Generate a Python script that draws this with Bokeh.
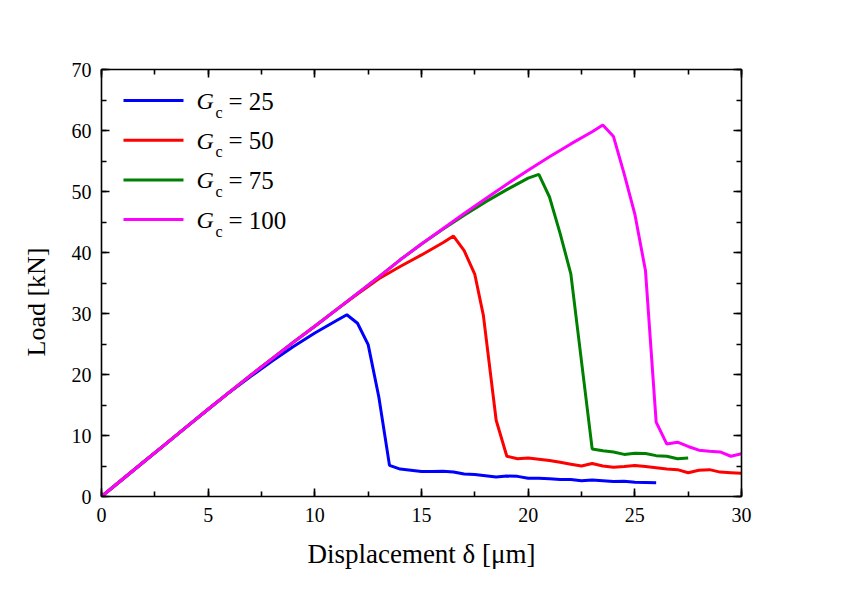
from bokeh.plotting import figure
from bokeh.models import LinearAxis, SingleIntervalTicker, Range1d, Label, Title, CustomJSTickFormatter
from bokeh.embed import file_html
from bokeh.resources import INLINE

# ---------------- data ----------------
x_g25 = [0, 1, 2, 3, 4, 5, 6, 7, 8, 9, 10, 11, 11.5, 12, 12.5, 13, 13.5, 14, 14.5, 15, 15.5,
         16, 16.5, 17, 17.5, 18, 18.5, 19, 19.5, 20, 20.5, 21, 21.5, 22, 22.5, 23, 23.5,
         24, 24.5, 25, 25.5, 26]
y_g25 = [0, 2.87, 5.74, 8.6, 11.45, 14.3, 17.1, 19.7, 22.2, 24.6, 26.8, 28.8, 29.8, 28.4,
         24.9, 16.3, 5.1, 4.5, 4.3, 4.1, 4.1, 4.15, 4.0, 3.7, 3.6, 3.4, 3.2, 3.35, 3.3, 3.0,
         3.0, 2.9, 2.8, 2.8, 2.6, 2.7, 2.6, 2.45, 2.5, 2.35, 2.3, 2.25]

x_g50 = [0, 1, 2, 3, 4, 5, 6, 7, 8, 9, 10, 11, 12, 13, 14, 15, 16, 16.5, 17, 17.5, 17.9,
         18.5, 19, 19.5, 20, 20.5, 21, 21.5, 22, 22.5, 23, 23.5, 24, 24.5, 25, 25.5, 26,
         26.5, 27, 27.5, 28, 28.5, 29, 29.5, 30]
y_g50 = [0, 2.87, 5.74, 8.6, 11.45, 14.3, 17.1, 19.9, 22.6, 25.3, 27.9, 30.6, 33.2, 35.7,
         37.7, 39.6, 41.6, 42.7, 40.3, 36.4, 29.7, 12.5, 6.6, 6.2, 6.3, 6.1, 5.9, 5.6, 5.3,
         5.0, 5.4, 5.0, 4.8, 4.9, 5.1, 4.9, 4.7, 4.5, 4.4, 3.9, 4.3, 4.4, 4.0, 3.9, 3.8]

x_g75 = [0, 1, 2, 3, 4, 5, 6, 7, 8, 9, 10, 11, 12, 13, 14, 15, 16, 17, 18, 19, 20, 20.5,
         21, 21.5, 22, 23, 23.5, 24, 24.5, 25, 25.5, 26, 26.5, 27, 27.5]
y_g75 = [0, 2.87, 5.74, 8.6, 11.45, 14.3, 17.1, 19.9, 22.6, 25.3, 27.9, 30.6, 33.3, 36.0,
         38.8, 41.4, 43.8, 46.1, 48.3, 50.3, 52.2, 52.8, 49.1, 43.1, 36.5, 7.8, 7.5, 7.3,
         6.9, 7.1, 7.05, 6.7, 6.6, 6.2, 6.3]

x_g100 = [0, 1, 2, 3, 4, 5, 6, 7, 8, 9, 10, 11, 12, 13, 14, 15, 16, 17, 18, 19, 20, 21,
          22, 23, 23.5, 24, 24.5, 25, 25.5, 26, 26.5, 27, 27.5, 28, 28.5, 29, 29.5, 30]
y_g100 = [0, 2.87, 5.74, 8.6, 11.45, 14.3, 17.1, 19.9, 22.6, 25.3, 27.9, 30.6, 33.3, 36.0,
          38.8, 41.4, 43.9, 46.4, 48.8, 51.2, 53.5, 55.7, 57.8, 59.8, 60.9, 59.0, 52.9,
          46.3, 37.0, 12.2, 8.6, 8.9, 8.2, 7.6, 7.4, 7.3, 6.6, 7.0]

series_labels = ["25", "50", "75", "100"]
series_colors = ["#0000FF", "#FF0000", "#008000", "#FF00FF"]
series_x = [x_g25, x_g50, x_g75, x_g100]
series_y = [y_g25, y_g50, y_g75, y_g100]

x_label = "Displacement δ [μm]"
y_label = "Load [kN]"

# ---------------- figure ----------------
SERIF = "Liberation Serif"
W, H = 826, 580
p = figure(width=W, height=H, output_backend="svg", toolbar_location=None,
           x_range=Range1d(0, 30), y_range=Range1d(0, 70),
           min_border_left=101, min_border_right=85, min_border_top=69, min_border_bottom=84,
           x_axis_location=None, y_axis_location=None)
p.grid.visible = False
p.outline_line_color = None
p.background_fill_color = "white"
p.border_fill_color = "white"


def style_axis(ax):
    ax.axis_line_width = 1.6
    ax.axis_line_color = "black"
    ax.major_tick_in = 8
    ax.major_tick_out = 0
    ax.minor_tick_in = 5
    ax.minor_tick_out = 0
    ax.major_tick_line_width = 1.6
    ax.minor_tick_line_width = 1.6
    ax.major_tick_line_color = "black"
    ax.minor_tick_line_color = "black"
    ax.major_label_text_font = SERIF
    ax.major_label_text_font_size = "20px"
    ax.major_label_text_color = "black"
    ax.axis_label_text_font = SERIF
    ax.axis_label_text_font_size = "27px"
    ax.axis_label_text_font_style = "normal"
    ax.axis_label_text_color = "black"


xb = LinearAxis(ticker=SingleIntervalTicker(interval=5, num_minor_ticks=2), axis_label=x_label)
style_axis(xb)
xb.major_label_standoff = 11
xb.axis_label_standoff = 14
p.add_layout(xb, "below")

yl = LinearAxis(ticker=SingleIntervalTicker(interval=10, num_minor_ticks=2))
style_axis(yl)
yl.major_label_standoff = 10
p.add_layout(yl, "left")

# y-axis title: a left-side title, shifted a little below the frame centre as in the reference
ytitle = Title(text=y_label, align="left", offset=140, standoff=35,
               text_font=SERIF, text_font_size="26px", text_font_style="normal",
               text_color="black")
p.add_layout(ytitle, "left")

blank = CustomJSTickFormatter(code="return '';")

xa = LinearAxis(ticker=SingleIntervalTicker(interval=5, num_minor_ticks=2), formatter=blank)
style_axis(xa)
xa.major_label_standoff = 0
p.add_layout(xa, "above")

yr = LinearAxis(ticker=SingleIntervalTicker(interval=10, num_minor_ticks=2), formatter=blank)
style_axis(yr)
yr.major_label_standoff = 0
p.add_layout(yr, "right")

# ---------------- curves ----------------
for xs, ys, c in zip(series_x, series_y, series_colors):
    p.line(xs, ys, line_color=c, line_width=3)

# ---------------- helpers: page pixel -> data ----------------
FX0, FY0, FW, FH = 101, 496, 640, 427   # frame in page pixels


def dx(px):
    return (px - FX0) / FW * 30.0


def dy(py):
    return (FY0 - py) / FH * 70.0


# ---------------- custom legend (italic G with subscript c) ----------------
ROW0, ROWSTEP = 100.0, 39.7
for i, (lab, c) in enumerate(zip(series_labels, series_colors)):
    yc = ROW0 + i * ROWSTEP
    p.line([dx(123), dx(183)], [dy(yc), dy(yc)], line_color=c, line_width=3)
    p.add_layout(Label(x=dx(196), y=dy(yc + 0.5), text="G", text_font=SERIF,
                       text_font_style="italic", text_font_size="24px",
                       text_baseline="middle", text_align="left", text_color="black"))
    p.add_layout(Label(x=dx(215), y=dy(yc + 11.5), text="c", text_font=SERIF,
                       text_font_size="16px", text_baseline="middle",
                       text_align="left", text_color="black"))
    p.add_layout(Label(x=dx(228), y=dy(yc + 0.5), text="= " + lab, text_font=SERIF,
                       text_font_size="25px", text_baseline="middle",
                       text_align="left", text_color="black"))

open("out.html", "w").write(file_html(p, INLINE))
